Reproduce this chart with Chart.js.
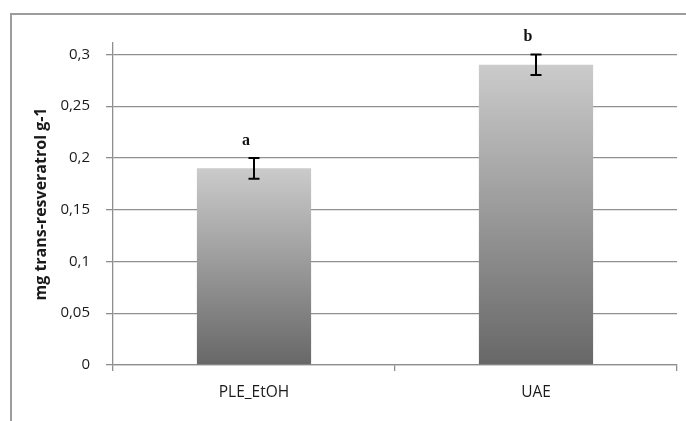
<!DOCTYPE html>
<html>
<head>
<meta charset="utf-8">
<script src="https://cdn.jsdelivr.net/npm/chart.js@4/dist/chart.umd.min.js"></script>
<style>
  html, body { margin: 0; padding: 0; background: #fff; }
  #wrap { position: relative; width: 686px; height: 421px; }
</style>
</head>
<body>
<div id="wrap"><canvas id="c" width="686" height="421"></canvas></div>
<script>
// Extraction methods and trans-resveratrol yield (mg per g)
const categories = ['PLE_EtOH', 'UAE'];
const meanValues = [0.19, 0.29];
const errorValues = [0.01, 0.01];
const groupLetters = ['a', 'b'];
const yTickValues = [0, 0.05, 0.1, 0.15, 0.2, 0.25, 0.3];

const GRID = '#8f8f8f';
const TEXT = '#1a1a1a';

// Vertical grey gradient, light at the bar top and dark at the base
function barGradient(ctx) {
  const chart = ctx.chart;
  if (!chart.chartArea || ctx.type !== 'data') return '#999';
  const ys = chart.scales.y;
  const top = ys.getPixelForValue(ctx.raw);
  const base = ys.getPixelForValue(0);
  const g = chart.ctx.createLinearGradient(0, top, 0, base);
  g.addColorStop(0, '#cbcbcb');
  g.addColorStop(1, '#676767');
  return g;
}

// Outer frame of the chart object
const framePlugin = {
  id: 'frame',
  beforeDraw(chart) {
    const c = chart.ctx;
    c.save();
    c.strokeStyle = '#9c9c9c';
    c.lineWidth = 2;
    c.beginPath();
    c.moveTo(11, 421);
    c.lineTo(11, 14);
    c.lineTo(686, 14);
    c.stroke();
    c.restore();
  }
};

// Error bars and significance letters
const errorPlugin = {
  id: 'errors',
  afterDatasetsDraw(chart) {
    const c = chart.ctx;
    const ys = chart.scales.y;
    const meta = chart.getDatasetMeta(0);
    c.save();
    meta.data.forEach((bar, i) => {
      const x = bar.x;
      const hi = ys.getPixelForValue(meanValues[i] + errorValues[i]);
      const lo = ys.getPixelForValue(meanValues[i] - errorValues[i]);
      c.strokeStyle = '#000';
      c.lineWidth = 2;
      c.beginPath();
      c.moveTo(x, hi); c.lineTo(x, lo);
      c.moveTo(x - 5.5, hi); c.lineTo(x + 5.5, hi);
      c.moveTo(x - 5.5, lo); c.lineTo(x + 5.5, lo);
      c.stroke();
      c.fillStyle = '#111';
      c.font = 'bold 16px "Liberation Serif", "DejaVu Serif", serif';
      c.textAlign = 'center';
      c.textBaseline = 'alphabetic';
      c.fillText(groupLetters[i], x - 8, hi - 13);
    });
    c.restore();
  }
};

new Chart(document.getElementById('c'), {
  type: 'bar',
  data: {
    labels: categories,
    datasets: [{
      data: meanValues,
      backgroundColor: barGradient,
      borderWidth: 0,
      categoryPercentage: 1,
      barPercentage: 0.405
    }]
  },
  options: {
    responsive: false,
    animation: false,
    events: [],
    layout: { padding: { top: 43, right: 9, left: 0, bottom: 0 } },
    plugins: { legend: { display: false }, tooltip: { enabled: false } },
    scales: {
      x: {
        offset: true,
        grid: {
          offset: true,
          drawOnChartArea: false,
          drawTicks: true,
          tickLength: 6,
          color: GRID,
          lineWidth: 1.3
        },
        border: { display: true, color: GRID, width: 1.3 },
        ticks: {
          color: TEXT,
          padding: 12,
          font: { family: '"Open Sans", sans-serif', size: 15.5 }
        },
        afterFit(scale) { scale.height = 56; }
      },
      y: {
        min: 0,
        max: 0.311,
        afterBuildTicks(scale) {
          scale.ticks = yTickValues.map(v => ({ value: v }));
        },
        grid: {
          color: GRID,
          lineWidth: 1.3,
          drawTicks: true,
          tickLength: 7
        },
        border: { display: true, color: GRID, width: 1.3 },
        ticks: {
          color: TEXT,
          padding: 16,
          font: { family: '"Open Sans", sans-serif', size: 15 },
          callback: v => String(Math.round(v * 100) / 100).replace('.', ',')
        },
        title: {
          display: true,
          text: 'mg trans-resveratrol g-1',
          color: TEXT,
          padding: { top: 32, bottom: 0 },
          font: { family: '"Open Sans", sans-serif', size: 16, weight: 'bold' }
        },
        afterFit(scale) { scale.width = 113; }
      }
    }
  },
  plugins: [framePlugin, errorPlugin]
});
</script>
</body>
</html>
